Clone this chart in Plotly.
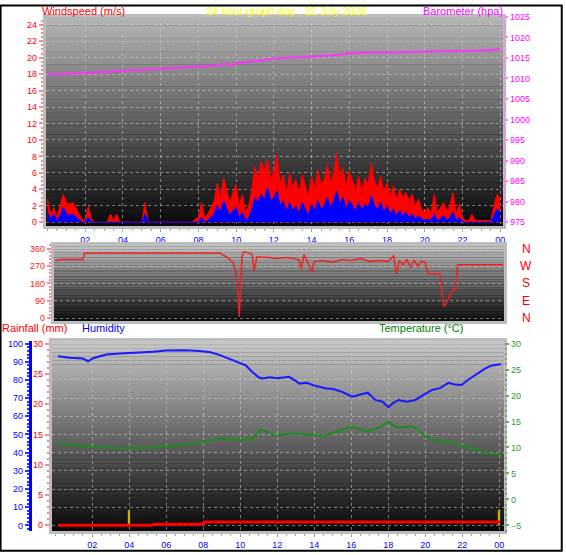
import plotly.graph_objects as go

# ---------------- data ----------------
# wind: 10-minute samples over the day (hours)
wind_h = [i / 6 for i in range(145)]
gust = [2.8, 1.0, 1.8, 0.6, 2.0, 3.4, 2.4, 2.2, 2.4, 1.8, 1.0, 0.3, 0.2, 2.0, 0.3, 0, 0, 0, 0, 0,
        1.0, 0.2, 1.0, 0, 0, 0, 0, 0, 0, 0, 0, 2.4, 0, 0, 0, 0, 0, 0, 0, 0,
        0, 0, 0, 0, 0, 0, 0, 0.4, 0.6, 2.4, 0.5, 1.0, 1.8, 2.6, 4.8, 3.0, 5.4, 4.0, 2.4, 3.6,
        4.6, 2.0, 3.4, 1.2, 2.0, 4.0, 6.8, 5.2, 7.4, 6.2, 7.6, 5.0, 6.4, 8.2, 4.6, 5.8, 3.4, 6.0, 4.2, 5.2,
        3.6, 5.8, 4.4, 3.2, 5.6, 4.0, 6.4, 4.6, 5.2, 7.0, 4.8, 6.0, 8.4, 5.4, 6.6, 4.4, 6.2, 5.0, 4.0, 5.6,
        3.8, 5.4, 4.6, 7.2, 5.0, 4.2, 5.6, 3.6, 4.8, 3.2, 4.4, 2.8, 4.0, 3.0, 3.6, 2.6, 3.4, 2.0, 2.8, 1.6,
        1.2, 1.8, 1.0, 3.4, 1.2, 1.8, 2.4, 1.4, 2.0, 3.6, 1.0, 2.2, 0.6, 0.2, 0.2, 1.0, 0.2, 0.2, 0.2, 0.2,
        0.2, 0.2, 2.0, 3.4, 2.8]
avg = [1.2, 0.4, 1.0, 0.2, 0.8, 1.8, 1.0, 0.8, 1.0, 0.6, 0.3, 0, 0, 0.6, 0, 0, 0, 0, 0, 0,
       0, 0, 0, 0, 0, 0, 0, 0, 0, 0, 0, 1.0, 0, 0, 0, 0, 0, 0, 0, 0,
       0, 0, 0, 0, 0, 0, 0, 0, 0, 0.6, 0, 0.2, 0.6, 1.0, 2.0, 1.2, 2.6, 1.6, 0.8, 1.4,
       1.8, 0.6, 1.2, 0.2, 0.6, 1.6, 3.0, 2.4, 3.4, 2.8, 4.2, 2.6, 3.0, 3.8, 2.0, 2.6, 1.2, 2.4, 1.4, 2.0,
       1.0, 2.4, 1.6, 0.8, 2.2, 1.4, 2.6, 1.6, 2.0, 3.0, 1.8, 2.6, 3.8, 2.2, 3.0, 1.6, 2.6, 2.0, 1.4, 2.4,
       1.4, 2.2, 1.8, 3.2, 2.0, 1.6, 2.4, 1.2, 2.0, 1.0, 1.6, 0.8, 1.4, 0.8, 1.2, 0.6, 1.0, 0.4, 0.8, 0.4,
       0.2, 0.4, 0.2, 1.0, 0.2, 0.4, 0.8, 0.2, 0.6, 1.2, 0.2, 0.6, 0, 0, 0, 0, 0, 0, 0, 0,
       0, 0, 0.8, 1.6, 1.2]

baro_h = [0, 1, 2, 3, 4, 5, 6, 7, 8, 9, 9.5, 9.8, 10, 11, 12, 13, 14, 15, 16, 17, 18, 19, 20, 21, 22, 23, 24]
baro = [1010.9, 1011.1, 1011.3, 1011.6, 1011.9, 1012.1, 1012.3, 1012.6, 1012.9, 1013.2, 1013.6, 1013.1,
        1013.7, 1014.3, 1014.8, 1015.1, 1015.4, 1015.6, 1016.1, 1016.3, 1016.3, 1016.4, 1016.5, 1016.5,
        1016.7, 1016.8, 1017.1]

dir_h = [0.0, 0.4, 1.5, 1.6, 8.9, 9.2, 9.4, 9.6, 9.75, 9.88, 9.95, 10.1, 10.2, 10.5, 10.65, 10.75, 10.9,
         11.5, 12.0, 12.5, 13.0, 13.2, 13.3, 13.45, 13.6, 13.85, 14.0, 14.5, 15.0, 15.5, 16.0, 16.5, 17.0,
         17.5, 18.0, 18.3, 18.45, 18.6, 18.8, 19.0, 19.2, 19.4, 19.6, 19.8, 20.0, 20.15, 20.2, 20.8, 20.9,
         21.0, 21.1, 21.5, 21.65, 21.75, 24.2]
dir_deg = [300, 305, 305, 338, 338, 320, 310, 290, 250, 130, 5, 320, 345, 338, 330, 245, 318,
           315, 310, 315, 308, 300, 255, 330, 300, 240, 295, 300, 290, 305, 300, 310, 295,
           300, 295, 325, 230, 300, 275, 305, 265, 300, 270, 295, 290, 235, 230, 230, 150,
           60, 70, 150, 150, 278, 278]

hum_h = [0.15, 0.8, 1.5, 1.78, 2.05, 2.77, 3.5, 4.56, 5.3, 6.0, 7.0, 7.8, 8.4, 8.87, 9.2, 9.59, 10.0,
         10.3, 10.66, 11.0, 11.2, 11.6, 12.0, 12.64, 13.0, 13.2, 13.6, 14.0, 14.6, 15.0, 15.5, 16.05,
         16.5, 16.9, 17.3, 17.7, 18.0, 18.3, 18.56, 19.0, 19.46, 19.9, 20.36, 20.8, 21.25, 21.6, 21.97,
         22.3, 22.7, 23.23, 23.6, 24.1]
hum = [93.0, 92.2, 91.8, 90.3, 92.0, 94.0, 94.6, 95.0, 95.5, 96.2, 96.4, 96.0, 95.2, 93.8, 92.5, 90.8,
       89.5, 88.0, 84.4, 81.5, 80.8, 81.5, 81.0, 81.7, 79.5, 78.0, 78.5, 77.0, 75.4, 75.0, 73.5, 70.8,
       72.0, 73.0, 69.0, 68.0, 65.0, 67.5, 69.0, 68.0, 69.0, 71.5, 74.5, 75.5, 78.4, 77.5, 77.2, 80.0,
       82.5, 86.2, 88.0, 88.6]

temp_h = [0.15, 1.0, 1.87, 2.8, 3.66, 4.5, 5.46, 6.2, 6.9, 7.5, 8.15, 8.6, 8.96, 9.5, 9.95, 10.3, 10.66,
          11.1, 11.5, 11.9, 12.5, 13.2, 13.8, 14.4, 15.0, 15.5, 16.05, 16.5, 16.9, 17.5, 18.0, 18.3,
          18.56, 19.0, 19.28, 19.6, 20.0, 20.5, 21.4, 22.0, 22.5, 23.0, 23.5, 24.1]
temp = [10.7, 10.5, 10.1, 9.9, 9.8, 9.9, 10.0, 10.2, 10.5, 10.8, 11.2, 11.5, 11.8, 11.6, 11.4, 11.5, 11.6,
        13.5, 13.0, 12.2, 12.6, 12.7, 12.5, 12.2, 12.8, 13.4, 14.0, 13.5, 13.1, 13.8, 15.0, 14.2,
        13.8, 14.0, 14.1, 13.5, 12.1, 11.4, 10.9, 10.3, 9.8, 9.2, 8.8, 8.7]

rain_h = [0.15, 5.19, 5.37, 8.0, 8.05, 24.04]
rain = [0, 0, 0.2, 0.2, 0.55, 0.55]

mark_h = [4.0, 24.0]
mark_v = [2.5, 2.5]

hour_ticks = [2, 4, 6, 8, 10, 12, 14, 16, 18, 20, 22, 24]
hour_labels = ["02", "04", "06", "08", "10", "12", "14", "16", "18", "20", "22", "00"]
compass = ["N", "W", "S", "E", "N"]
compass_deg = [360, 270, 180, 90, 0]

FONT = "Liberation Sans, Arial, sans-serif"
W, H = 566, 555

def px_x(x):
    return x / W

def px_y(y):
    return 1 - y / H

fig = go.Figure()

# ---------------- traces ----------------
fig.add_trace(go.Scatter(x=wind_h, y=gust, mode="lines", line=dict(color="#ff0000", width=1),
                         fill="tozeroy", fillcolor="#ff0000", xaxis="x", yaxis="y"))
fig.add_trace(go.Scatter(x=wind_h, y=avg, mode="lines", line=dict(color="#0000ff", width=1),
                         fill="tozeroy", fillcolor="#0000ff", xaxis="x", yaxis="y"))
fig.add_trace(go.Scatter(x=baro_h, y=baro, mode="lines", line=dict(color="#ff33ff", width=2),
                         xaxis="x", yaxis="y2"))
fig.add_trace(go.Scatter(x=dir_h, y=dir_deg, mode="lines", line=dict(color="#ee2222", width=1.5),
                         xaxis="x2", yaxis="y3"))
fig.add_trace(go.Bar(x=mark_h, y=mark_v, width=0.1, marker=dict(color="#c8b400", line=dict(width=0)),
                     xaxis="x3", yaxis="y4"))
fig.add_trace(go.Scatter(x=rain_h, y=rain, mode="lines", line=dict(color="#ff0000", width=3),
                         xaxis="x3", yaxis="y4"))
fig.add_trace(go.Scatter(x=hum_h, y=hum, mode="lines", line=dict(color="#1a1aff", width=2),
                         xaxis="x3", yaxis="y5"))
fig.add_trace(go.Scatter(x=temp_h, y=temp, mode="lines", line=dict(color="#1e8c1e", width=2),
                         xaxis="x3", yaxis="y6"))

# ---------------- gradient backgrounds ----------------
shapes = []

def gradient(xref, yref, top, bottom, n=48):
    for k in range(n):
        f = (k + 0.5) / n
        c = int(round(top + (bottom - top) * f))
        shapes.append(dict(type="rect", xref=xref, yref=yref, x0=0, x1=1,
                           y0=1 - (k + 1) / n, y1=1 - k / n + 0.002,
                           fillcolor=f"rgb({c},{c},{c})", line=dict(width=0), layer="below"))

gradient("x domain", "y domain", 182, 8)
gradient("x2 domain", "y3 domain", 196, 14)
gradient("x3 domain", "y4 domain", 200, 8)

shapes.append(dict(type="rect", xref="paper", yref="paper", x0=0.001, x1=0.996, y0=0.004, y1=0.999,
                   line=dict(color="black", width=2), fillcolor="rgba(0,0,0,0)", layer="above"))

GRID = "rgba(205,205,205,0.55)"
FRAME = "#bdbdbd"

top_dom = [px_y(224), px_y(12)]
mid_dom = [px_y(320), px_y(243)]
bot_dom = [px_y(533), px_y(340)]

def xax(domain, rng, anchor, labels, grid):
    d = dict(domain=domain, range=rng, anchor=anchor, tickvals=hour_ticks,
             ticktext=hour_labels if labels else [""] * len(hour_ticks),
             tickfont=dict(family=FONT, size=9, color="#0000ff"),
             showgrid=grid, gridcolor=GRID, griddash="dot", gridwidth=1,
             showline=True, linecolor=FRAME, linewidth=3, mirror=True, zeroline=False,
             fixedrange=True)
    if labels:
        d.update(ticks="outside", ticklen=3, tickwidth=1, tickcolor="#a0a0a0",
                 minor=dict(dtick=0.5, tick0=0, ticks="outside", ticklen=2, tickwidth=1,
                            tickcolor="#a0a0a0", showgrid=False))
    else:
        d.update(ticks="")
    return d

layout = dict(
    width=W, height=H, margin=dict(l=0, r=0, t=0, b=0),
    paper_bgcolor="white", plot_bgcolor="black", showlegend=False,
    font=dict(family=FONT, size=9),
    shapes=shapes,
    xaxis=xax([px_x(46), px_x(505)], [-0.09, 24.16], "y", True, True),
    xaxis2=xax([px_x(54), px_x(506)], [-0.07, 24.27], "y3", False, False),
    xaxis3=xax([px_x(52), px_x(506)], [-0.18, 24.27], "y4", True, True),
    yaxis=dict(domain=top_dom, range=[-0.48, 24.96], tickvals=list(range(0, 25, 2)),
               tickfont=dict(family=FONT, size=9, color="#ff0000"),
               ticks="outside", ticklen=4, tickwidth=2, tickcolor="#ff8a8a",
               minor=dict(dtick=0.5, tick0=0, ticks="outside", ticklen=2, tickwidth=2,
                          tickcolor="#ff8a8a", showgrid=False),
               showgrid=True, gridcolor=GRID, griddash="dot", zeroline=False,
               showline=True, linecolor=FRAME, linewidth=3, mirror=True, anchor="x"),
    yaxis2=dict(overlaying="y", side="right", anchor="x", range=[974.04, 1025],
                tick0=975, dtick=5, tickfont=dict(family=FONT, size=9, color="#ff00ff"),
                ticks="outside", ticklen=4, tickwidth=2, tickcolor="#ff80ff",
                minor=dict(dtick=1, tick0=975, ticks="outside", ticklen=2, tickwidth=2,
                           tickcolor="#ff80ff", showgrid=False),
                showgrid=False, zeroline=False),
    yaxis3=dict(domain=mid_dom, range=[-15.4, 380.6], tickvals=[0, 90, 180, 270, 360],
                anchor="x2", tickfont=dict(family=FONT, size=9, color="#ff2020"),
                ticks="outside", ticklen=4, tickwidth=2, tickcolor="#ff8a8a",
                minor=dict(dtick=18, tick0=0, ticks="outside", ticklen=2, tickwidth=2,
                           tickcolor="#ff8a8a", showgrid=False),
                showgrid=True, gridcolor=GRID, griddash="dot", zeroline=False,
                showline=True, linecolor=FRAME, linewidth=3, mirror=True),
    yaxis4=dict(domain=bot_dom, range=[-0.98, 30.49], tick0=0, dtick=5, anchor="x3",
                tickfont=dict(family=FONT, size=9, color="#ff0000"),
                ticks="outside", ticklen=4, tickwidth=2, tickcolor="#ff8a8a",
                minor=dict(dtick=1, tick0=0, ticks="outside", ticklen=2, tickwidth=2,
                           tickcolor="#ff8a8a", showgrid=False),
                showgrid=False, zeroline=False,
                showline=True, linecolor=FRAME, linewidth=3, mirror=True),
    yaxis5=dict(overlaying="y4", side="left", anchor="free", position=px_x(30),
                range=[-3.26, 101.6], tick0=0, dtick=10,
                tickfont=dict(family=FONT, size=9, color="#0000ff"),
                ticks="outside", ticklen=4, tickwidth=2, tickcolor="#3333ff",
                minor=dict(dtick=2, tick0=0, ticks="outside", ticklen=2, tickwidth=2,
                           tickcolor="#3333ff", showgrid=False),
                showgrid=True, gridcolor=GRID, griddash="dot", zeroline=False,
                showline=True, linecolor="#0000ff", linewidth=3),
    yaxis6=dict(overlaying="y4", side="right", anchor="x3", range=[-6.14, 30.57],
                tick0=-5, dtick=5, tickfont=dict(family=FONT, size=9, color="#2f9a2f"),
                ticks="outside", ticklen=4, tickwidth=2, tickcolor="#66aa66",
                minor=dict(dtick=1, tick0=-5, ticks="outside", ticklen=2, tickwidth=2,
                           tickcolor="#66aa66", showgrid=False),
                showgrid=False, zeroline=False),
)
fig.update_layout(**layout)

# ---------------- texts ----------------
def note(text, x, y, color, xanchor="left", size=11):
    fig.add_annotation(text=text, x=x, y=y, xref="paper", yref="paper", xanchor=xanchor,
                       yanchor="middle", showarrow=False,
                       font=dict(family=FONT, size=size, color=color))

note("Windspeed (m/s)", px_x(40), px_y(6), "#ff0000")
note("24 hour graph day : 22 July 2026", px_x(288), px_y(6), "#ffff00", xanchor="center")
note("Barometer (hpa)", px_x(507), px_y(6), "#ff00ff", xanchor="right")
note("Rainfall (mm)", px_x(0), px_y(327), "#ff0000")
note("Humidity", px_x(80), px_y(327), "#0000ff")
note("Temperature (°C)", px_x(378), px_y(327), "#008000")

for lab, d in zip(compass, compass_deg):
    fig.add_annotation(text=lab, x=px_x(528), y=d, xref="paper", yref="y3", xanchor="center",
                       yanchor="middle", showarrow=False,
                       font=dict(family=FONT, size=12, color="#ff0000"))

fig.write_html("out.html")
